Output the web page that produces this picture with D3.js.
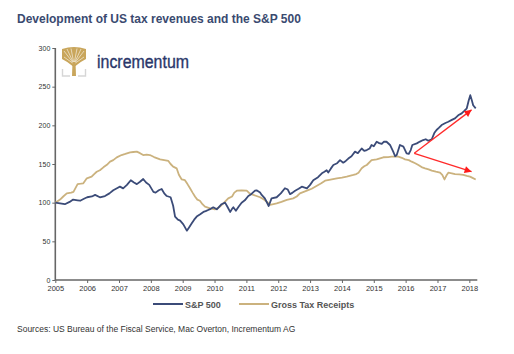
<!DOCTYPE html>
<html>
<head>
<meta charset="utf-8">
<script src="https://cdn.jsdelivr.net/npm/d3@7"></script>
<style>
  body { margin: 0; background: #fff; }
  text { font-family: "Liberation Sans", Arial, sans-serif; }
</style>
</head>
<body>
<div id="chart"></div>
<script>
// [decimal year, index value]
const spx = [
  [2005.00,100],[2005.15,99],[2005.30,98],[2005.45,101],[2005.56,104],[2005.70,103],[2005.78,102.5],
  [2005.90,105],[2006.00,107],[2006.15,108],[2006.25,110],[2006.40,107],[2006.56,108.6],[2006.70,112],
  [2006.82,116],[2006.95,119],[2007.03,120.7],[2007.13,118.5],[2007.25,123],[2007.37,129],[2007.47,126],
  [2007.56,124],[2007.66,127],[2007.76,130.6],[2007.85,126],[2007.95,123],[2008.08,114],[2008.15,113],
  [2008.25,116],[2008.34,117.7],[2008.42,112],[2008.50,108.6],[2008.62,107],[2008.70,96],[2008.76,82],
  [2008.85,78],[2008.92,76.7],[2009.02,72],[2009.13,63.8],[2009.20,68],[2009.28,73],[2009.36,78],
  [2009.44,82],[2009.55,85],[2009.65,88],[2009.72,89],[2009.80,90.5],[2009.88,92],[2009.96,94],
  [2010.07,91.4],[2010.15,95],[2010.22,98],[2010.33,100],[2010.40,95],[2010.49,88],[2010.55,92],
  [2010.59,94],[2010.67,89.6],[2010.76,95],[2010.85,100],[2010.95,103],[2011.06,108.6],[2011.15,111],
  [2011.27,115.5],[2011.32,116],[2011.43,113],[2011.48,110],[2011.58,105.6],[2011.70,95.7],[2011.79,105.6],
  [2011.95,107],[2012.08,112],[2012.21,118.6],[2012.30,117],[2012.37,111],[2012.45,113],[2012.53,115.5],
  [2012.64,118],[2012.74,120.7],[2012.90,118.6],[2013.00,123],[2013.10,129],[2013.25,133],[2013.37,138],
  [2013.45,140],[2013.52,142],[2013.57,139],[2013.65,144],[2013.73,148.7],[2013.85,151],[2013.94,155],
  [2014.04,151.7],[2014.12,154],[2014.20,157],[2014.30,160],[2014.41,166],[2014.50,164],[2014.62,170],
  [2014.70,167],[2014.78,168],[2014.87,170],[2014.93,174.6],[2015.00,173],[2015.09,178.8],[2015.17,177],
  [2015.25,176],[2015.32,179],[2015.40,178.8],[2015.51,174.6],[2015.61,166],[2015.67,160],[2015.72,161.6],
  [2015.82,174.6],[2015.93,172.4],[2016.03,163.8],[2016.10,163],[2016.16,168],[2016.21,174.6],[2016.35,176.7],
  [2016.45,179],[2016.55,181],[2016.63,182],[2016.71,180],[2016.82,182],[2016.90,190],[2016.97,194],
  [2017.05,197],[2017.13,200.4],[2017.25,203],[2017.34,204.7],[2017.45,207],[2017.55,209],[2017.65,213],
  [2017.76,215.5],[2017.85,219],[2017.92,222],[2017.98,232],[2018.03,239],[2018.08,232],[2018.12,226],
  [2018.20,222]
];

const tax = [
  [2005.00,100],[2005.15,104],[2005.25,108],[2005.36,112],[2005.50,113],[2005.57,114],[2005.70,124],
  [2005.80,124.5],[2005.88,125],[2005.99,131.5],[2006.14,133.6],[2006.22,137],[2006.30,140],[2006.40,142],
  [2006.51,145.7],[2006.62,149],[2006.72,153],[2006.82,155],[2006.93,158.6],[2007.08,161.6],[2007.20,163],
  [2007.35,165],[2007.45,165.5],[2007.56,166],[2007.66,164],[2007.76,161.6],[2007.87,162],[2007.97,161.6],
  [2008.10,159],[2008.29,156],[2008.42,155],[2008.55,154],[2008.62,150],[2008.70,146.6],[2008.81,144.4],
  [2008.88,136],[2008.97,130],[2009.07,129],[2009.15,124],[2009.23,118.6],[2009.31,113],[2009.39,107.7],
  [2009.46,104],[2009.54,102.5],[2009.62,98],[2009.70,94.8],[2009.86,92.7],[2010.01,91.4],[2010.10,93],
  [2010.17,94.8],[2010.30,100],[2010.43,105.6],[2010.55,108],[2010.62,113],[2010.70,115.5],[2010.85,116],
  [2011.01,115.5],[2011.10,112],[2011.22,110],[2011.43,107],[2011.55,104],[2011.64,101.3],[2011.74,97],
  [2011.85,98],[2011.95,99],[2012.10,101],[2012.27,103.5],[2012.47,105.6],[2012.58,108],[2012.68,112],
  [2012.80,114],[2012.90,115.5],[2013.05,118],[2013.20,121.5],[2013.35,125],[2013.47,128.4],[2013.60,129.5],
  [2013.84,131.5],[2014.00,132.5],[2014.15,133.6],[2014.36,135.8],[2014.45,137],[2014.52,138.8],
  [2014.62,144.4],[2014.70,147],[2014.78,148.7],[2014.93,155],[2015.09,156],[2015.30,158.7],[2015.45,159],
  [2015.56,159.5],[2015.77,159.5],[2015.88,158],[2015.98,156],[2016.10,155],[2016.19,153],[2016.30,151],
  [2016.40,148.7],[2016.50,146],[2016.61,144.4],[2016.72,143],[2016.82,141.4],[2016.95,140],[2017.08,138.8],
  [2017.15,136],[2017.22,130],[2017.28,135],[2017.34,138.8],[2017.45,138],[2017.55,137],[2017.68,136.5],
  [2017.81,135.8],[2017.92,134.5],[2018.02,133.6],[2018.10,132],[2018.20,130]
];

const yearTicks = [2005,2006,2007,2008,2009,2010,2011,2012,2013,2014,2015,2016,2017,2018];
const valueTicks = [0,50,100,150,200,250,300];
// red arrows: from a common start to two tips
const arrowStart = [2016.27, 163.8];
const arrowEnds = [[2018.07, 220], [2018.07, 140]];

const navy = "#3b4b78", gold = "#cbb27e";

const W = 514, H = 354;
const svg = d3.select("#chart").append("svg")
  .attr("width", W).attr("height", H);

const x = d3.scaleLinear().domain([2005, 2018.25]).range([55.3, 477.3]);
const y = d3.scaleLinear().domain([0, 300]).range([280, 48]);

// title
svg.append("text")
   .attr("x", 17).attr("y", 23)
   .attr("fill", "#3a4a70")
   .style("font-size", "12px").style("font-weight", "bold")
   .text("Development of US tax revenues and the S&P 500");

// axes
const yAxis = svg.append("g")
  .attr("transform", `translate(${x(2005)},0)`)
  .call(d3.axisLeft(y).tickValues(valueTicks).tickSize(3).tickPadding(2));
const xAxis = svg.append("g")
  .attr("transform", `translate(0,${y(0)})`)
  .call(d3.axisBottom(x).tickValues(yearTicks).tickFormat(d3.format("d")).tickSize(3).tickPadding(3));
[yAxis, xAxis].forEach(g => {
  g.select(".domain").attr("stroke", "#666").attr("stroke-width", 1.6);
  g.selectAll(".tick line").attr("stroke", "#666").attr("stroke-width", 1);
  g.selectAll("text").attr("fill", "#333").style("font-size", "7.5px");
});
yAxis.selectAll("text").style("font-size", "7px");
// domain paths draw outer ticks; replace with plain lines
yAxis.select(".domain").attr("d", `M0,${y(300)}V${y(0)}`);
xAxis.select(".domain").attr("d", `M${x(2005)},0H${x(2018.25)}`);

// logo
const logo = svg.append("g").attr("transform", "translate(62,48)");
logo.append("path")
    .attr("d", "M0,1 Q12,-3 24,1 L24,11 Q18,14 13.5,18 L10.5,18 Q6,14 0,11 Z")
    .attr("fill", "#c9a65c");
const gaps = [[2,3],[2,9],[5,1],[9,0.5],[15,0.5],[19,1],[22,3],[22,9]];
gaps.forEach(t => {
  logo.append("path")
      .attr("d", `M12,16 Q${(12 + t[0]) / 2},${(16 + t[1]) / 2} ${t[0]},${t[1]}`)
      .attr("fill", "none").attr("stroke", "#fff").attr("stroke-width", 0.7).attr("opacity", 0.8);
});
logo.append("path").attr("d", "M10.5,14 L13.5,14 L14,28 L10,28 Z").attr("fill", "#c9a65c");
logo.append("path").attr("d", "M0.5,21 V28 H8 M23.5,21 V28 H16")
    .attr("fill", "none").attr("stroke", "#d6d6d6").attr("stroke-width", 1.4);
svg.append("text")
   .attr("x", 97).attr("y", 68)
   .attr("fill", "#2a376a")
   .attr("stroke", "#2a376a").attr("stroke-width", 0.35)
   .attr("textLength", 92).attr("lengthAdjust", "spacingAndGlyphs")
   .style("font-size", "18px")
   .text("incrementum");

// series
const line = d3.line().x(d => x(d[0])).y(d => y(d[1]));
svg.append("path").datum(tax)
   .attr("d", line).attr("fill", "none")
   .attr("stroke", gold).attr("stroke-width", 1.8).attr("stroke-linejoin", "round");
svg.append("path").datum(spx)
   .attr("d", line).attr("fill", "none")
   .attr("stroke", navy).attr("stroke-width", 1.8).attr("stroke-linejoin", "round");

// arrows
svg.append("defs").append("marker")
   .attr("id", "head").attr("viewBox", "0 0 10 10")
   .attr("refX", 10).attr("refY", 5)
   .attr("markerWidth", 9).attr("markerHeight", 7)
   .attr("markerUnits", "userSpaceOnUse")
   .attr("orient", "auto")
   .append("path").attr("d", "M0,0 L10,5 L0,10 Z").attr("fill", "#ff1a1a");
arrowEnds.forEach(e => {
  svg.append("line")
     .attr("x1", x(arrowStart[0])).attr("y1", y(arrowStart[1]))
     .attr("x2", x(e[0])).attr("y2", y(e[1]))
     .attr("stroke", "#ff2a2a").attr("stroke-width", 1.3)
     .attr("marker-end", "url(#head)");
});

// legend
const legend = [
  {label: "S&P 500", color: navy, x0: 153},
  {label: "Gross Tax Receipts", color: gold, x0: 239}
];
legend.forEach(l => {
  svg.append("line")
     .attr("x1", l.x0).attr("x2", l.x0 + 30)
     .attr("y1", 304).attr("y2", 304)
     .attr("stroke", l.color).attr("stroke-width", 2);
  svg.append("text")
     .attr("x", l.x0 + 32).attr("y", 307.5)
     .attr("fill", "#555")
     .style("font-size", "9px").style("font-weight", "bold")
     .text(l.label);
});

// source
svg.append("text")
   .attr("x", 17).attr("y", 332)
   .attr("fill", "#333")
   .style("font-size", "8.5px")
   .text("Sources: US Bureau of the Fiscal Service, Mac Overton, Incrementum AG");
</script>
</body>
</html>
